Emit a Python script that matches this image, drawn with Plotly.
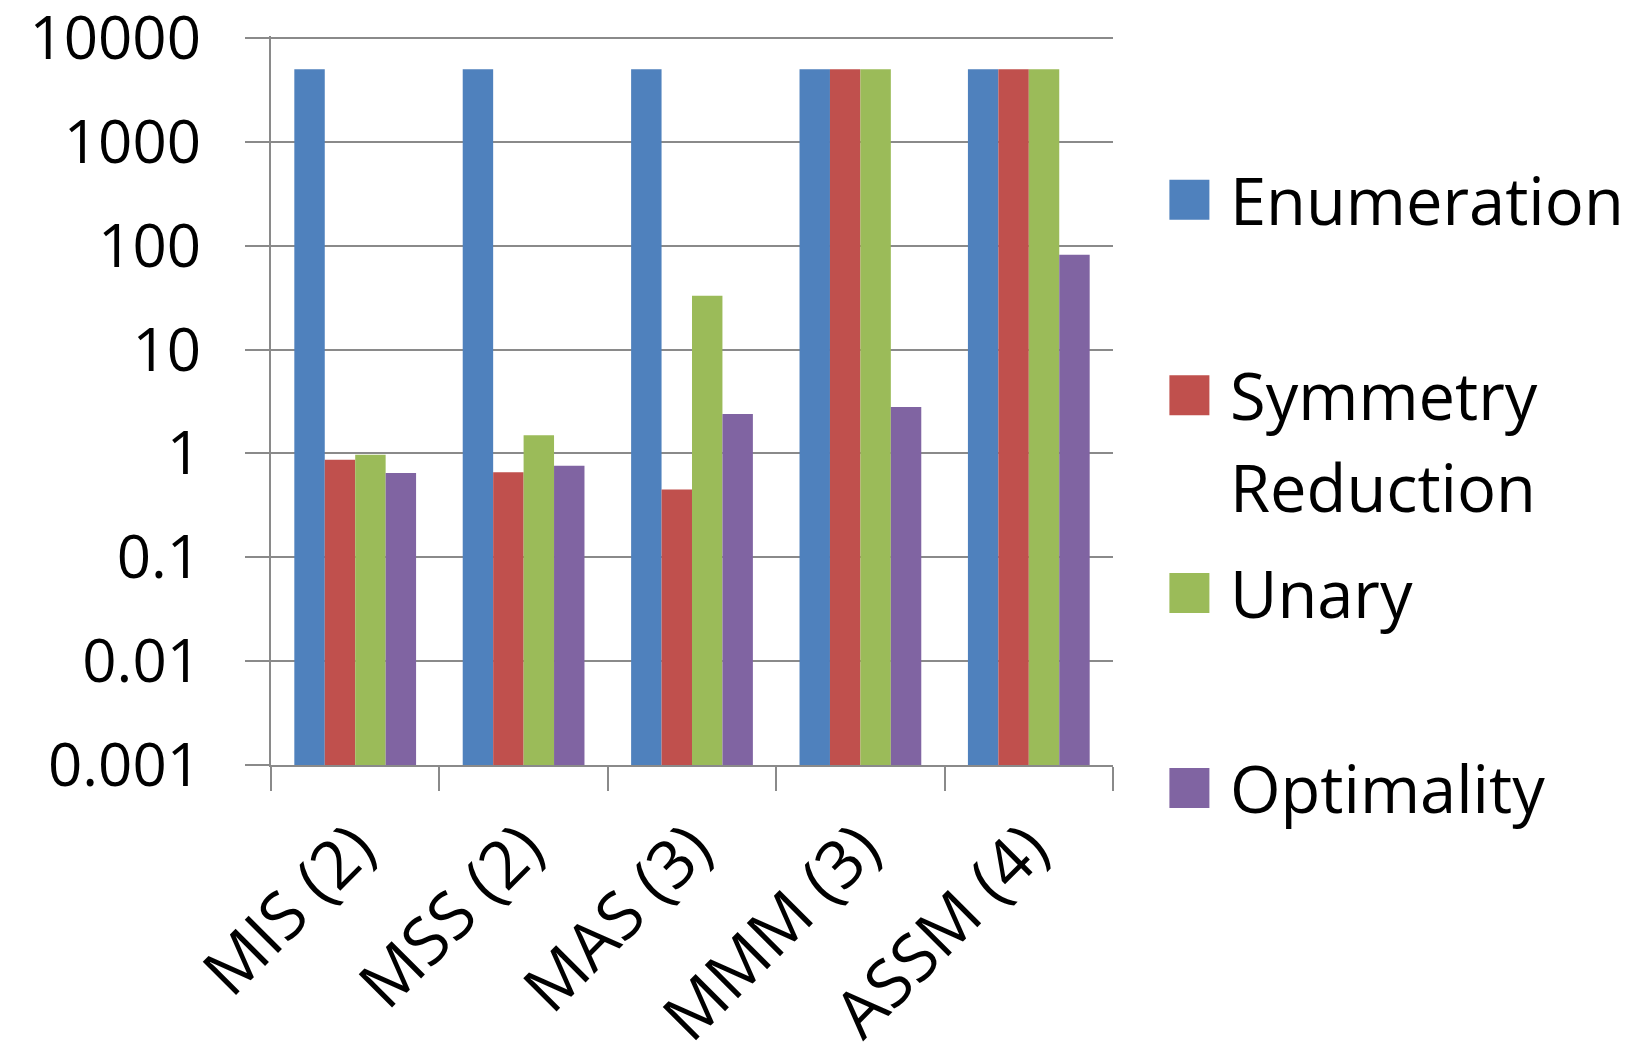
import plotly.graph_objects as go

categories = ["MIS (2)", "MSS (2)", "MAS (3)", "MMM (3)", "ASSM (4)"]
series_names = ["Enumeration", "Symmetry Reduction", "Unary", "Optimality"]
legend_lines = [["Enumeration"], ["Symmetry", "Reduction"], ["Unary"], ["Optimality"]]
enumeration = [5000, 5000, 5000, 5000, 5000]
symmetry_reduction = [0.87, 0.66, 0.45, 5000, 5000]
unary = [0.97, 1.5, 33, 5000, 5000]
optimality = [0.65, 0.76, 2.4, 2.8, 82]
colors = ["#4F81BD", "#C0504D", "#9BBB59", "#8064A2"]
tick_vals = [0.001, 0.01, 0.1, 1, 10, 100, 1000, 10000]
tick_text = ["0.001", "0.01", "0.1", "1", "10", "100", "1000", "10000"]

W, H = 1632, 1063
OFF = 8  # page body margin
YTOP = 4.02
DEC = (765.0 - 38.5) / 7.0
# target screen positions of plot area
SX0, SX1, SY0, SY1 = 270.6, 1112.6, 38.5 - (YTOP - 4) * DEC, 765.0
ML = SX0 - OFF
MT = SY0 - OFF
MR = W - (SX1 - OFF)
MB = H - (SY1 - OFF)
FONT = "Open Sans"
FS = 60
FSX = 66
FSL = 65

def px_x(px):
    return (px - OFF - ML) / (W - ML - MR)

def px_y(py):
    return 1 - (py - OFF - MT) / (H - MT - MB)

fig = go.Figure()
for name, vals, col in zip(series_names, [enumeration, symmetry_reduction, unary, optimality], colors):
    fig.add_trace(go.Bar(x=categories, y=vals, name=name, marker_color=col,
                         marker_line_width=0, showlegend=False))

grid_col = "#8a8a8a"
fig.update_layout(
    width=W, height=H,
    margin=dict(l=ML, r=MR, t=MT, b=MB, pad=0, autoexpand=False),
    paper_bgcolor="white", plot_bgcolor="white",
    barmode="group", bargap=0.277, bargroupgap=0,
    font=dict(family=FONT, size=FS, color="black"),
    showlegend=False,
)
fig.update_xaxes(type="category", showgrid=False, showline=True, linecolor=grid_col, linewidth=2,
                 ticks="outside", tickson="boundaries", ticklen=24, tickcolor=grid_col, tickwidth=2,
                 tickangle=-45, tickfont=dict(family=FONT, size=FSX, color="black"),
                 ticklabelstandoff=16, ticklabeloverflow="allow", automargin=False)
fig.update_yaxes(type="log", range=[-3, YTOP], tickvals=tick_vals, ticktext=tick_text,
                 showgrid=True, gridcolor=grid_col, gridwidth=2, zeroline=False,
                 showline=True, linecolor=grid_col, linewidth=2,
                 ticks="outside", ticklen=24, tickcolor=grid_col, tickwidth=2,
                 tickfont=dict(family=FONT, size=FS, color="black"), ticklabelstandoff=32,
                 ticklabeloverflow="allow", automargin=False)

# manual legend (screen pixel positions)
centers = [200, 395.5, 593, 788]
line_gap = 91.5
box_l, box_r, text_x = 1169, 1209, 1228
for lines, col, cy in zip(legend_lines, colors, centers):
    fig.add_shape(type="rect", xref="paper", yref="paper",
                  x0=px_x(box_l), x1=px_x(box_r), y0=px_y(cy + 20), y1=px_y(cy - 20),
                  fillcolor=col, line_width=0)
    for i, ln in enumerate(lines):
        fig.add_annotation(xref="paper", yref="paper", x=px_x(text_x), y=px_y(cy + i * line_gap),
                           xanchor="left", yanchor="middle", text=ln, showarrow=False,
                           align="left", font=dict(family=FONT, size=FSL, color="black"))

fig.write_html("out.html")
